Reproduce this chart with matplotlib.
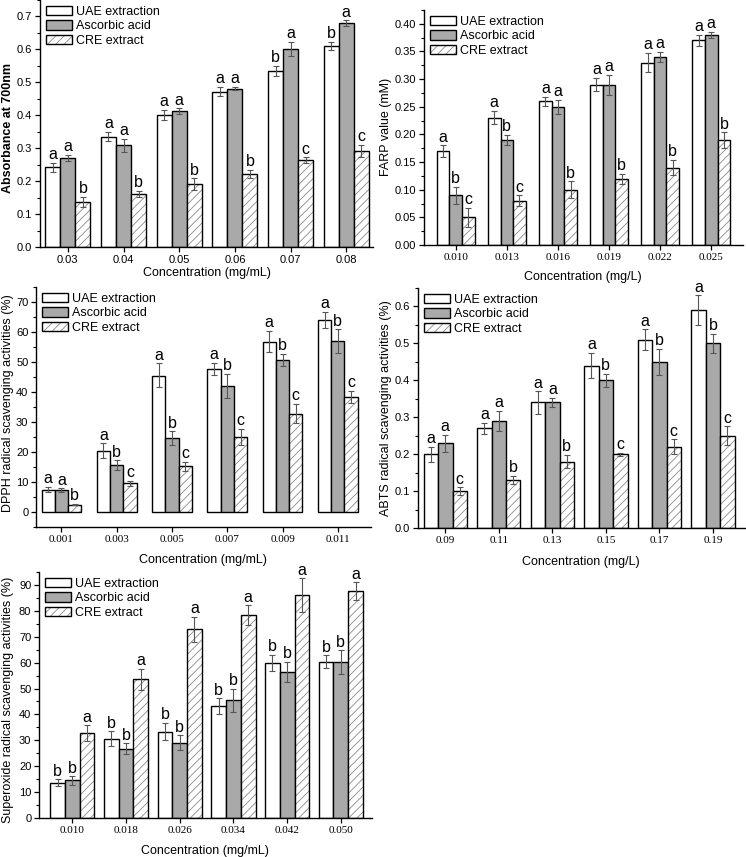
import numpy as np
import matplotlib
matplotlib.use("Agg")
import matplotlib.pyplot as plt
from matplotlib.patches import Patch
from matplotlib.ticker import MultipleLocator, FormatStrFormatter

plt.rcParams["font.family"] = ["Liberation Sans", "DejaVu Sans"]
plt.rcParams["hatch.linewidth"] = 0.6

W, H = 746, 857

# ── data ──────────────────────────────────────────────────────
SERIES = ["UAE extraction", "Ascorbic acid", "CRE extract"]

# Reducing power
rp_conc = ["0.03", "0.04", "0.05", "0.06", "0.07", "0.08"]
rp_uae = [0.242, 0.335, 0.401, 0.472, 0.535, 0.610]
rp_asc = [0.270, 0.309, 0.412, 0.481, 0.601, 0.679]
rp_cre = [0.136, 0.162, 0.191, 0.222, 0.264, 0.292]
rp_uae_err = [0.014, 0.014, 0.015, 0.014, 0.015, 0.012]
rp_asc_err = [0.010, 0.020, 0.009, 0.005, 0.022, 0.009]
rp_cre_err = [0.016, 0.009, 0.017, 0.012, 0.008, 0.018]
rp_uae_sig = ["a", "a", "a", "a", "b", "b"]
rp_asc_sig = ["a", "a", "a", "a", "a", "a"]
rp_cre_sig = ["b", "b", "b", "b", "c", "c"]

# FARP
fr_conc = ["0.010", "0.013", "0.016", "0.019", "0.022", "0.025"]
fr_uae = [0.17, 0.23, 0.26, 0.29, 0.33, 0.37]
fr_asc = [0.09, 0.19, 0.25, 0.29, 0.34, 0.38]
fr_cre = [0.05, 0.08, 0.10, 0.12, 0.14, 0.19]
fr_uae_err = [0.010, 0.012, 0.008, 0.012, 0.018, 0.010]
fr_asc_err = [0.015, 0.009, 0.013, 0.018, 0.009, 0.005]
fr_cre_err = [0.017, 0.010, 0.015, 0.009, 0.014, 0.014]
fr_uae_sig = ["a", "a", "a", "a", "a", "a"]
fr_asc_sig = ["b", "b", "a", "a", "a", "a"]
fr_cre_sig = ["c", "c", "b", "b", "b", "b"]

# DPPH
dp_conc = ["0.001", "0.003", "0.005", "0.007", "0.009", "0.011"]
dp_uae = [7.5, 20.4, 45.5, 47.7, 56.8, 64.0]
dp_asc = [7.3, 15.6, 24.6, 42.1, 50.8, 57.0]
dp_cre = [2.5, 9.6, 15.2, 25.0, 32.8, 38.4]
dp_uae_err = [0.8, 2.5, 4.0, 2.0, 3.6, 2.8]
dp_asc_err = [0.6, 1.6, 2.3, 4.0, 2.0, 3.9]
dp_cre_err = [0.2, 0.9, 1.6, 2.8, 3.2, 2.0]
dp_uae_sig = ["a", "a", "a", "a", "a", "a"]
dp_asc_sig = ["a", "b", "b", "b", "b", "b"]
dp_cre_sig = ["b", "c", "c", "c", "c", "c"]

# ABTS
ab_conc = ["0.09", "0.11", "0.13", "0.15", "0.17", "0.19"]
ab_uae = [0.20, 0.27, 0.34, 0.44, 0.51, 0.59]
ab_asc = [0.23, 0.29, 0.34, 0.40, 0.45, 0.50]
ab_cre = [0.10, 0.13, 0.18, 0.20, 0.22, 0.25]
ab_uae_err = [0.020, 0.015, 0.030, 0.035, 0.028, 0.040]
ab_asc_err = [0.023, 0.028, 0.013, 0.018, 0.035, 0.025]
ab_cre_err = [0.010, 0.012, 0.018, 0.004, 0.020, 0.025]
ab_uae_sig = ["a", "a", "a", "a", "a", "a"]
ab_asc_sig = ["a", "a", "a", "b", "b", "b"]
ab_cre_sig = ["c", "b", "b", "c", "c", "c"]

# Superoxide
so_conc = ["0.010", "0.018", "0.026", "0.034", "0.042", "0.050"]
so_uae = [13.6, 30.6, 33.4, 43.2, 59.9, 60.3]
so_asc = [14.5, 26.8, 29.0, 45.5, 56.4, 60.2]
so_cre = [32.8, 53.6, 72.8, 78.3, 86.1, 87.5]
so_uae_err = [1.3, 2.9, 3.4, 3.0, 3.2, 2.5]
so_asc_err = [1.6, 2.0, 2.9, 4.4, 4.0, 4.5]
so_cre_err = [3.0, 4.0, 5.0, 3.8, 6.5, 3.5]
so_uae_sig = ["b", "b", "b", "b", "b", "b"]
so_asc_sig = ["b", "b", "b", "b", "b", "b"]
so_cre_sig = ["a", "a", "a", "a", "a", "a"]

GRAY = "#a9a9a9"
HATCH_GRAY = "#8a8a8a"
ERR_GRAY = "#555555"

fig = plt.figure(figsize=(W / 100, H / 100), dpi=100)


def px_axes(left, right, top, bottom):
    return fig.add_axes([left / W, 1 - bottom / H, (right - left) / W, (bottom - top) / H])


def panel(ax, conc, vals, errs, sigs, bw, xlim, ylim, ystep, yminor, yfmt, serif_x):
    x = np.arange(1, len(conc) + 1)
    offs = [-bw, 0, bw]
    for k in range(3):
        xs = x + offs[k]
        if k == 0:
            ax.bar(xs, vals[k], bw, color="white", edgecolor="black", linewidth=1.0, zorder=2)
        elif k == 1:
            ax.bar(xs, vals[k], bw, color=GRAY, edgecolor="black", linewidth=1.0, zorder=2)
        else:
            ax.bar(xs, vals[k], bw, color="white", edgecolor=HATCH_GRAY, hatch="////",
                   linewidth=0, zorder=2)
            ax.bar(xs, vals[k], bw, color="none", edgecolor="black", linewidth=1.0, zorder=3)
        ax.errorbar(xs, vals[k], yerr=errs[k], fmt="none", ecolor=ERR_GRAY,
                    elinewidth=0.8, capsize=2.5, capthick=0.8, zorder=4)
        for xi, v, e, s in zip(xs, vals[k], errs[k], sigs[k]):
            ax.annotate(s, (xi, v + e), xytext=(0, 0.5), textcoords="offset points",
                        ha="center", va="bottom", fontsize=11.5)

    ax.set_xlim(*xlim)
    ax.set_ylim(*ylim)
    ax.set_xticks(x)
    ax.set_xticklabels(conc)
    ax.yaxis.set_major_locator(MultipleLocator(ystep))
    ax.yaxis.set_minor_locator(MultipleLocator(yminor))
    ax.yaxis.set_major_formatter(FormatStrFormatter(yfmt))
    for sp in ["top", "right"]:
        ax.spines[sp].set_visible(False)
    for sp in ["left", "bottom"]:
        ax.spines[sp].set_linewidth(1.0)
    ax.tick_params(axis="both", which="major", direction="out", length=3.5, width=0.9,
                   labelsize=8, pad=2)
    ax.tick_params(axis="y", which="minor", direction="out", length=2, width=0.8)
    if serif_x:
        for lab in ax.get_xticklabels():
            lab.set_family(["Liberation Serif", "DejaVu Serif"])
            lab.set_fontsize(8)

    handles = [
        Patch(facecolor="white", edgecolor="black", linewidth=1.0),
        Patch(facecolor=GRAY, edgecolor="black", linewidth=1.0),
        (Patch(facecolor="white", edgecolor=HATCH_GRAY, hatch="////", linewidth=0),
         Patch(facecolor="none", edgecolor="black", linewidth=1.0)),
    ]
    ax.legend(handles, SERIES, loc="upper left", frameon=False, fontsize=9,
              handlelength=2.1, handleheight=0.8, handletextpad=0.3, labelspacing=0.2,
              borderaxespad=0.2, borderpad=0.25)


ax1 = px_axes(40, 373, 0, 247)
panel(ax1, rp_conc, [rp_uae, rp_asc, rp_cre], [rp_uae_err, rp_asc_err, rp_cre_err],
      [rp_uae_sig, rp_asc_sig, rp_cre_sig], 0.27, (0.5, 6.48), (0, 0.75), 0.1, 0.05,
      "%.1f", False)

ax2 = px_axes(424, 743, 10, 245)
panel(ax2, fr_conc, [fr_uae, fr_asc, fr_cre], [fr_uae_err, fr_asc_err, fr_cre_err],
      [fr_uae_sig, fr_asc_sig, fr_cre_sig], 0.246, (0.38, 6.62), (0, 0.425), 0.05, 0.025,
      "%.2f", True)

ax3 = px_axes(36, 371, 287, 527)
panel(ax3, dp_conc, [dp_uae, dp_asc, dp_cre], [dp_uae_err, dp_asc_err, dp_cre_err],
      [dp_uae_sig, dp_asc_sig, dp_cre_sig], 0.24, (0.54, 6.6), (-5, 75), 10, 5,
      "%d", True)

ax4 = px_axes(418, 745, 288, 528)
panel(ax4, ab_conc, [ab_uae, ab_asc, ab_cre], [ab_uae_err, ab_asc_err, ab_cre_err],
      [ab_uae_sig, ab_asc_sig, ab_cre_sig], 0.27, (0.49, 6.6), (0, 0.65), 0.1, 0.05,
      "%.1f", True)

ax5 = px_axes(39, 372, 572, 818)
panel(ax5, so_conc, [so_uae, so_asc, so_cre], [so_uae_err, so_asc_err, so_cre_err],
      [so_uae_sig, so_asc_sig, so_cre_sig], 0.275, (0.38, 6.58), (0, 95), 10, 5,
      "%d", True)

# axis titles placed in pixel coordinates
def ftext(x, y, s, **kw):
    fig.text(x / W, 1 - y / H, s, ha="center", va="center", **kw)


ftext(207, 273, "Concentration (mg/mL)", fontsize=9)
ftext(583, 277, "Concentration (mg/L)", fontsize=9)
ftext(203, 560, "Concentration (mg/mL)", fontsize=9)
ftext(581, 562, "Concentration (mg/L)", fontsize=9)
ftext(205, 851, "Concentration (mg/mL)", fontsize=9)

ftext(8, 128, "Absorbance at 700nm", fontsize=9, fontweight="bold", rotation=90)
ftext(386, 127, "FARP value (mM)", fontsize=9, rotation=90)
ftext(8, 403, "DPPH radical scavenging activities (%)", fontsize=9, rotation=90)
ftext(386, 408, "ABTS radical scavenging activities (%)", fontsize=9, rotation=90)
ftext(8, 700, "Superoxide radical scavenging activities (%)", fontsize=9, rotation=90)

fig.savefig("out.png", dpi=100)
plt.close(fig)
